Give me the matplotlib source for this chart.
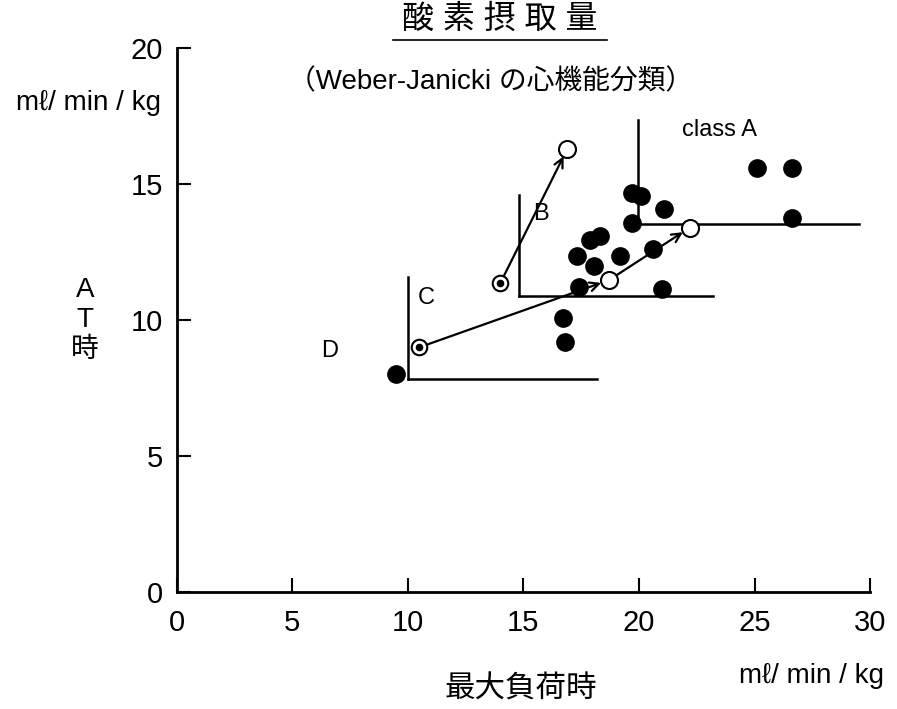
import matplotlib
matplotlib.use('Agg')
import matplotlib.pyplot as plt
from matplotlib.lines import Line2D

plt.rcParams['font.family'] = ['Liberation Sans', 'Noto Sans CJK JP', 'DejaVu Sans']

# filled dots
fx = [9.5, 16.7, 16.8, 17.3, 17.4, 17.9, 18.05, 18.3, 19.2, 19.7, 19.7, 20.1, 20.6, 21.0, 21.1, 25.1, 26.6, 26.6]
fy = [8.0, 10.07, 9.2, 12.35, 11.2, 12.94, 12.0, 13.1, 12.35, 14.67, 13.57, 14.56, 12.6, 11.14, 14.08, 15.6, 15.6, 13.75]

# circles with a dot inside (start) and open circles (after)
sx = [14.0, 10.5]
sy = [11.36, 9.0]
ox = [16.9, 18.7, 22.2]
oy = [16.3, 11.47, 13.4]

# arrow paths
path_b_x = [14.0, 16.9]
path_b_y = [11.36, 16.3]
path_c_x = [10.5, 18.7, 22.2]
path_c_y = [9.0, 11.47, 13.4]

# class borders: vertical x, vertical top, horizontal y, horizontal end
border_x = [10.0, 14.8, 19.95]
border_top = [11.6, 14.6, 17.35]
border_y = [7.85, 10.88, 13.55]
border_end = [18.2, 23.2, 29.5]

class_names = ['D', 'C', 'B', 'class A']
class_x = [6.6, 10.8, 15.75, 23.5]
class_y = [8.85, 10.8, 13.9, 17.0]

fig = plt.figure(figsize=(8.97, 7.09), dpi=100)
ax = fig.add_axes([0.197, 0.165, 0.773, 0.767])

for i in range(len(border_x)):
    ax.plot([border_x[i], border_x[i]], [border_y[i], border_top[i]], color='black', lw=1.8)
    ax.plot([border_x[i], border_end[i]], [border_y[i], border_y[i]], color='black', lw=1.8)

for px, py in [(path_b_x, path_b_y), (path_c_x, path_c_y)]:
    for i in range(len(px) - 1):
        ax.annotate('', xy=(px[i + 1], py[i + 1]), xytext=(px[i], py[i]),
                    arrowprops=dict(arrowstyle='->', color='black', lw=1.6,
                                    shrinkA=5, shrinkB=6, mutation_scale=16))

ax.scatter(fx, fy, s=155, color='black', zorder=5)
ax.scatter(sx, sy, s=125, facecolor='white', edgecolor='black', linewidth=1.5, zorder=5)
ax.scatter(sx, sy, s=20, color='black', zorder=6)
ax.scatter(ox, oy, s=150, facecolor='white', edgecolor='black', linewidth=1.5, zorder=5)

for name, x, y in zip(class_names, class_x, class_y):
    ax.text(x, y, name, fontsize=17, ha='center', va='center')

ax.set_xlim(0, 30)
ax.set_ylim(0, 20)
ax.set_xticks(range(0, 31, 5))
ax.set_yticks(range(0, 21, 5))
ax.spines['top'].set_visible(False)
ax.spines['right'].set_visible(False)
ax.spines['left'].set_linewidth(2)
ax.spines['bottom'].set_linewidth(2)
ax.tick_params(direction='in', length=10, width=1.5, labelsize=21)
ax.tick_params(axis='x', pad=12)
ax.tick_params(axis='y', pad=10)

fig.text(0.557, 0.972, '酸 素 摂 取 量', fontsize=23, ha='center', va='center')
fig.add_artist(Line2D([0.438, 0.677], [0.943, 0.943], color='black', lw=1.2))
fig.text(0.547, 0.884, '（Weber‐Janicki の心機能分類）', fontsize=20, ha='center', va='center')
fig.text(0.099, 0.855, 'mℓ/ min / kg', fontsize=20, ha='center', va='center')
fig.text(0.095, 0.549, 'A\nT\n時', fontsize=20, ha='center', va='center', linespacing=1.2)
fig.text(0.905, 0.047, 'mℓ/ min / kg', fontsize=20, ha='center', va='center')
fig.text(0.581, 0.027, '最大負荷時', fontsize=22, ha='center', va='center')

fig.savefig('out.png', dpi=100)
